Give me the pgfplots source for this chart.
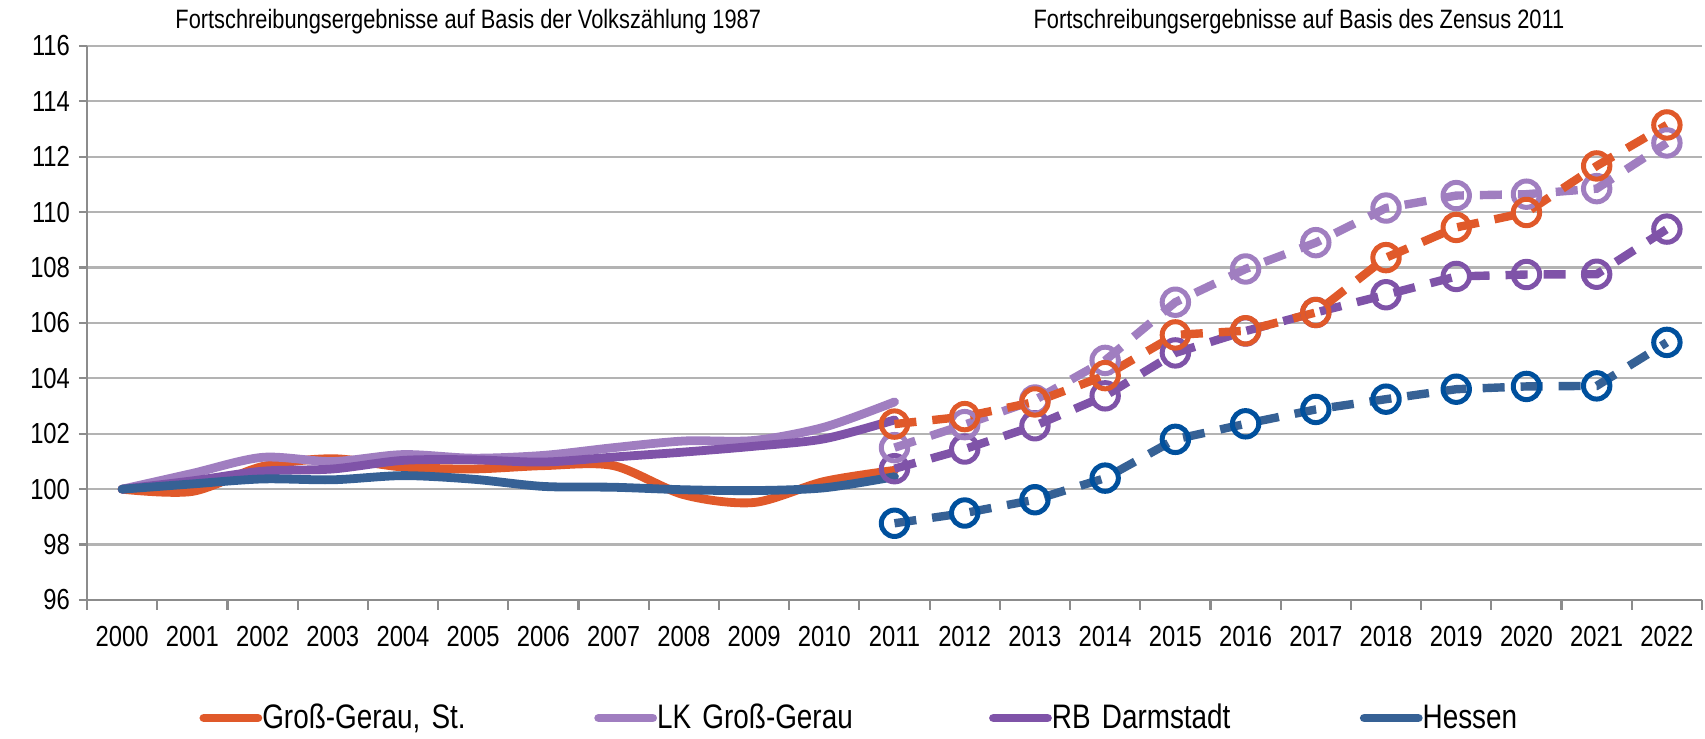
\documentclass[border=0pt]{standalone}
\usepackage{fontspec}
\setmainfont{Liberation Sans}[FakeStretch=0.82]
\usepackage{pgfplots}
\pgfplotsset{compat=1.18}
\definecolor{cOr}{HTML}{E0592A}
\definecolor{cLK}{HTML}{A07EC0}
\definecolor{cRB}{HTML}{7F53A8}
\definecolor{cHe}{HTML}{366195}
\definecolor{cHeM}{HTML}{00509D}
\definecolor{cGrid}{HTML}{B3B3B3}
\definecolor{cAx}{HTML}{8C8C8C}
\begin{document}
\begin{tikzpicture}
\useasboundingbox (0,0) rectangle (852.5pt,369.5pt);
\begin{axis}[
  at={(43.5pt,69.5pt)}, anchor=south west,
  scale only axis, width=807.5pt, height=277pt,
  xmin=-0.5, xmax=22.5, ymin=96, ymax=116,
  axis lines*=left,
  axis line style={cAx, line width=1.2pt},
  ytick={96,98,...,116},
  xtick={0,...,22},
  xticklabels={2000,2001,2002,2003,2004,2005,2006,2007,2008,2009,2010,2011,2012,2013,2014,2015,2016,2017,2018,2019,2020,2021,2022},
  minor xtick={-0.5,0.5,...,22.5},
  major x tick style={draw=none},
  minor x tick style={cAx, line width=1.1pt},
  y tick style={cAx, line width=1.1pt},
  tick align=outside,
  major tick length=4pt, minor tick length=5pt,
  ymajorgrids, grid style={cGrid, line width=1.1pt},
  /pgf/number format/assume math mode=true,
  tick label style={font=\fontsize{14.5}{16}\selectfont},
  xticklabel style={yshift=-5.5pt},
  yticklabel style={xshift=-1pt},
  clip=false,
  legend columns=4,
  legend style={draw=none, fill=none, inner sep=0pt,
    at={(0.0694,-0.213)}, anchor=west,
    font=\fontsize{17}{19}\selectfont,
    nodes={inner xsep=0pt, align=left},
    /tikz/every even column/.append style={column sep=0pt}},
  legend image code/.code={\draw[#1, line width=4.4pt, line cap=round] (0pt,0pt) -- (27pt,0pt);},
]
% solid series 2000-2011
\addplot[cOr, line width=4.4pt, line cap=round, smooth] coordinates {(0,100) (1,99.92) (2,100.82) (3,101.1) (4,100.8) (5,100.73) (6,100.85) (7,100.85) (8,99.8) (9,99.52) (10,100.28) (11,100.68)};
\addlegendentry[text width=166pt]{Groß-Gerau, St.}
\addplot[cLK, line width=4.4pt, line cap=round, smooth] coordinates {(0,100) (1,100.57) (2,101.15) (3,101.0) (4,101.25) (5,101.12) (6,101.22) (7,101.5) (8,101.74) (9,101.76) (10,102.24) (11,103.15)};
\addlegendentry[text width=166pt]{LK Groß-Gerau}
\addplot[cRB, line width=4.4pt, line cap=round, smooth] coordinates {(0,100) (1,100.3) (2,100.65) (3,100.73) (4,101.04) (5,101.06) (6,100.98) (7,101.16) (8,101.34) (9,101.55) (10,101.82) (11,102.5)};
\addlegendentry[text width=154pt]{RB Darmstadt}
\addplot[cHe, line width=4.4pt, line cap=round, smooth] coordinates {(0,100) (1,100.19) (2,100.37) (3,100.34) (4,100.49) (5,100.36) (6,100.1) (7,100.07) (8,99.98) (9,99.95) (10,100.05) (11,100.45)};
\addlegendentry[text width=60pt]{Hessen}
% dashed series 2011-2022
\addplot[forget plot, cHe, line width=4.2pt, dash pattern=on 11pt off 8pt, mark=o, mark size=6.6pt, mark options={solid, draw=cHeM, line width=2.5pt}] coordinates {(11,98.77) (12,99.14) (13,99.62) (14,100.4) (15,101.8) (16,102.36) (17,102.88) (18,103.25) (19,103.61) (20,103.71) (21,103.73) (22,105.3)};
\addplot[forget plot, cRB, line width=4.2pt, dash pattern=on 11pt off 8pt, mark=o, mark size=6.6pt, mark options={solid, line width=2.5pt}] coordinates {(11,100.74) (12,101.45) (13,102.29) (14,103.37) (15,104.92) (16,105.71) (17,106.38) (18,107.02) (19,107.68) (20,107.75) (21,107.76) (22,109.39)};
\addplot[forget plot, cLK, line width=4.2pt, dash pattern=on 11pt off 8pt, mark=o, mark size=6.6pt, mark options={solid, line width=2.5pt}] coordinates {(11,101.5) (12,102.33) (13,103.22) (14,104.65) (15,106.75) (16,107.95) (17,108.9) (18,110.15) (19,110.6) (20,110.65) (21,110.85) (22,112.5)};
\addplot[forget plot, cOr, line width=4.2pt, dash pattern=on 11pt off 8pt, mark=o, mark size=6.6pt, mark options={solid, line width=2.5pt}] coordinates {(11,102.35) (12,102.62) (13,103.15) (14,104.1) (15,105.57) (16,105.72) (17,106.38) (18,108.36) (19,109.45) (20,109.99) (21,111.67) (22,113.15)};
% titles
\node[font=\fontsize{13.3}{15}\selectfont] at ([yshift=12pt]axis cs:4.93,116) {Fortschreibungsergebnisse auf Basis der Volkszählung 1987};
\node[font=\fontsize{13.3}{15}\selectfont] at ([yshift=12pt]axis cs:16.76,116) {Fortschreibungsergebnisse auf Basis des Zensus 2011};
\end{axis}
\end{tikzpicture}
\end{document}
